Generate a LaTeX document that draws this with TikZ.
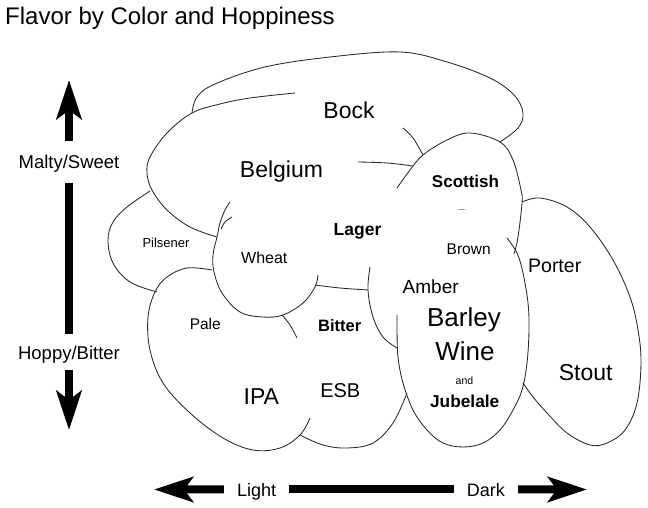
\documentclass[tikz,border=0pt]{standalone}
\usepackage{fontspec}
\setmainfont{Liberation Sans}
\usepackage{xcolor}
\definecolor{rimgrey}{RGB}{40,40,40}
\definecolor{dashgrey}{RGB}{150,165,170}
\usetikzlibrary{arrows.meta}
\newcommand{\beersize}[1]{\fontsize{#1}{#1}\selectfont}
\tikzset{
  rim/.style={draw=rimgrey,line width=0.85pt,line join=round},
  lab/.style={inner sep=0pt,anchor=base,font={\beersize{#1}}},
  blab/.style={inner sep=0pt,anchor=base,font={\bfseries\beersize{#1}}},
  axlab/.style={anchor=base,inner xsep=13pt,inner ysep=#1,text depth=0pt,font={\beersize{18}}},
  shaft/.style={draw=black,line width=8pt},
  arr/.style={shaft,-{Stealth[length=39pt,width=25pt,inset=9pt]}},
}

\begin{document}
\begin{tikzpicture}[x=1pt,y=-1pt]
  \useasboundingbox (0,0) rectangle (648,508);
  % outlines of the style regions
  \draw[rim] plot[smooth,tension=0.6] coordinates {(192,113) (197,97) (215,84) (265,67) (330,57) (400,52) (447,62) (490,78) (514,95) (523,113) (518,128) (500,142)};
  \draw[rim] plot[smooth,tension=0.6] coordinates {(295,93) (250,98) (220,104) (192,113) (167,133) (150,157) (147,173) (152,190) (167,210) (190,227) (217,237)};
  \draw[rim] plot[smooth,tension=0.6] coordinates {(403,128) (413,138) (423,155)};
  \draw[rim] plot[smooth,tension=0.6] coordinates {(358,162) (387,163) (413,166)};
  \draw[rim] plot[smooth,tension=0.6] coordinates {(397,188) (410,170) (423,155) (447,140) (470,133) (500,142) (513,160) (521,190) (522,203) (518,237) (514,254)};
  \draw[rim] plot[smooth,tension=0.6] coordinates {(522,202) (540,198) (567,207) (590,227) (613,260) (630,297) (638,330) (641,363) (637,403) (625,430) (607,443) (590,445) (567,433) (547,413) (533,397) (523,383)};
  \draw[rim] plot[smooth,tension=0.6] coordinates {(507,238) (517,253) (523,273) (528,303) (529,330) (527,363) (522,390) (513,410) (500,430) (483,443) (463,447) (443,443) (427,430) (413,410) (403,383) (398,357) (397,330) (397,315)};
  \draw[rim] plot[smooth,tension=0.6] coordinates {(370,267) (368,290) (373,317) (383,337) (397,348)};
  \draw[rim] plot[smooth,tension=0.6] coordinates {(315,285) (340,288) (368,290)};
  \draw[rim] plot[smooth,tension=0.6] coordinates {(230,202) (225,210) (220,223) (217,237) (213,255) (214,272) (222,293) (240,312) (263,317) (283,315) (303,303) (315,287) (318,275)};
  \draw[rim] plot[smooth,tension=0.6] coordinates {(232,217) (225,222) (221,229)};
  \draw[rim] plot[smooth,tension=0.6] coordinates {(282,315) (290,325) (297,338)};
  \draw[rim] plot[smooth,tension=0.6] coordinates {(150,191) (127,207) (113,222) (108,240) (113,263) (130,282) (157,292)};
  \draw[rim] plot[smooth,tension=0.6] coordinates {(212,270) (187,268) (167,277) (155,292) (148,317) (150,350) (163,383) (190,413) (223,438) (253,450) (280,448) (300,435) (310,418)};
  \draw[rim] plot[smooth,tension=0.6] coordinates {(300,435) (323,445) (347,448) (373,443) (393,423) (407,393)};
  \draw[dashgrey,line width=0.8pt] (458,209) -- (465,209);
  % labels
  \node[lab=24,anchor=base west] (title) at (5,25) {Flavor by Color and Hoppiness};
  \node[lab=23] (bock) at (349,119) {Bock};
  \node[lab=23] (belgium) at (281.5,177.5) {Belgium};
  \node[blab=17.5] (lager) at (357.5,235) {Lager};
  \node[blab=17] (scottish) at (465.5,187.3) {Scottish};
  \node[lab=13] (pilsener) at (166,247.3) {Pilsener};
  \node[lab=16] (wheat) at (264.3,263.3) {Wheat};
  \node[lab=15.5] (brown) at (468.7,254) {Brown};
  \node[lab=19.5] (porter) at (554.7,272.7) {Porter};
  \node[lab=19] (amber) at (430.7,293.3) {Amber};
  \node[lab=26] (barley) at (464,326.7) {Barley};
  \node[lab=26] (wine) at (465,360) {Wine};
  \node[lab=10.5] (and) at (464.5,384.3) {and};
  \node[blab=17.3] (jubelale) at (464.7,407.7) {Jubelale};
  \node[lab=23] (stout) at (585.7,380.7) {Stout};
  \node[blab=16.5] (bitter) at (339.7,331.7) {Bitter};
  \node[lab=15.5] (pale) at (205.3,329.3) {Pale};
  \node[lab=23] (ipa) at (261.3,404) {IPA};
  \node[lab=20] (esb) at (340.3,397.3) {ESB};
  % hoppiness axis
  \node[axlab=14pt,font={\beersize{18.5}}] (malty) at (69,168.3) {Malty/Sweet};
  \node[axlab=11pt,font={\beersize{18.5}}] (hoppy) at (69,359) {Hoppy/Bitter};
  \coordinate (uptip) at (69,80);
  \coordinate (downtip) at (69,430);
  \draw[arr] (malty) -- (uptip);
  \draw[shaft] (malty) -- (hoppy);
  \draw[arr] (hoppy) -- (downtip);
  % colour axis
  \node[axlab=4pt] (light) at (256.7,496) {Light};
  \node[axlab=4pt] (dark) at (485.8,496) {Dark};
  \coordinate (lefttip) at (154,489.5);
  \coordinate (righttip) at (587,489.5);
  \draw[arr] (light) -- (lefttip);
  \draw[shaft] (light) -- (dark);
  \draw[arr] (dark) -- (righttip);
\end{tikzpicture}
\end{document}
